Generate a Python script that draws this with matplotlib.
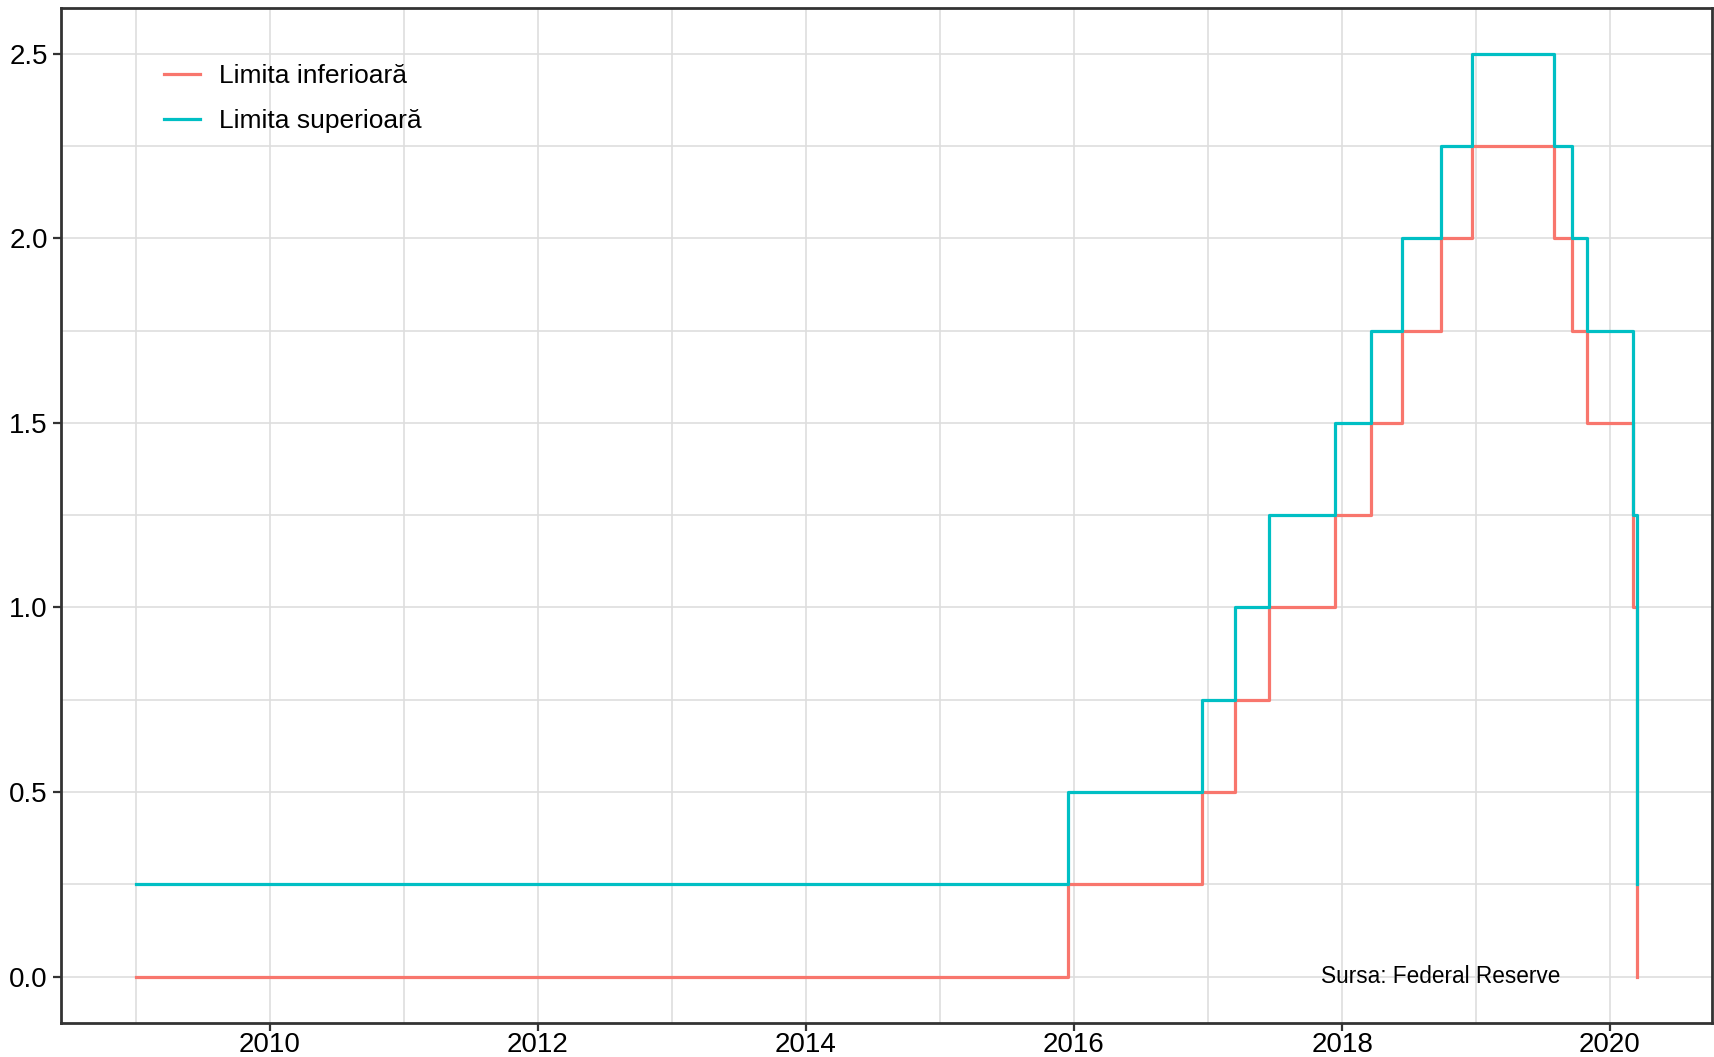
import matplotlib
matplotlib.use("Agg")
import matplotlib.pyplot as plt
import matplotlib.dates as mdates
import pandas as pd

plt.rcParams['font.family'] = ['Liberation Sans', 'DejaVu Sans']

# Fed funds target range - change dates and new bounds
dates = ["2009-01-01", "2015-12-17", "2016-12-15", "2017-03-16", "2017-06-15",
         "2017-12-14", "2018-03-22", "2018-06-14", "2018-09-27", "2018-12-20",
         "2019-08-01", "2019-09-19", "2019-10-31", "2020-03-04", "2020-03-16"]
lower = [0.00, 0.25, 0.50, 0.75, 1.00, 1.25, 1.50, 1.75, 2.00, 2.25,
         2.00, 1.75, 1.50, 1.00, 0.00]
upper = [0.25, 0.50, 0.75, 1.00, 1.25, 1.50, 1.75, 2.00, 2.25, 2.50,
         2.25, 2.00, 1.75, 1.25, 0.25]
labels = ["Limita inferioară", "Limita superioară"]
source = "Sursa: Federal Reserve"

x = pd.to_datetime(dates)

red = "#F8766D"
teal = "#00BFC4"

fig = plt.figure(figsize=(17.15, 10.57), dpi=100)
ax = fig.add_axes([61 / 1715, 1 - 1022.7 / 1057, (1712.5 - 61) / 1715, (1022.7 - 7.7) / 1057])

ax.step(x, lower, where="post", color=red, lw=2.3, label=labels[0], zorder=3)
ax.step(x, upper, where="post", color=teal, lw=2.3, label=labels[1], zorder=4)

# ggplot-like 5% expansion
span = x[-1] - x[0]
ax.set_xlim(x[0] - span * 0.05, x[-1] + span * 0.05)
ax.set_ylim(-0.125, 2.625)

ax.xaxis.set_major_locator(mdates.YearLocator(2))
ax.xaxis.set_minor_locator(mdates.YearLocator(1))
ax.xaxis.set_major_formatter(mdates.DateFormatter("%Y"))
ax.set_yticks([0, 0.5, 1.0, 1.5, 2.0, 2.5])
ax.set_yticks([0.25, 0.75, 1.25, 1.75, 2.25], minor=True)
ax.yaxis.set_major_formatter(matplotlib.ticker.FormatStrFormatter("%.1f"))

ax.grid(True, which="both", color="#dedede", lw=1.2, zorder=0)
ax.set_axisbelow(True)
for s in ax.spines.values():
    s.set_color("#333333")
    s.set_linewidth(2)
ax.tick_params(which="major", length=5.5, width=1.6, color="#333333",
               labelsize=20, labelcolor="black")
ax.tick_params(axis="y", pad=4)
ax.tick_params(axis="x", pad=1)
ax.tick_params(which="minor", length=0)

ax.text(pd.Timestamp("2018-09-27"), 0.0, source, ha="center", va="center",
        fontsize=16.3, color="black", zorder=5)

ax.legend(loc="upper left", bbox_to_anchor=(0.048, 0.968), frameon=False,
          fontsize=19, handlelength=1.35, handletextpad=0.75, labelspacing=0.8)

fig.savefig("out.png", dpi=100)
